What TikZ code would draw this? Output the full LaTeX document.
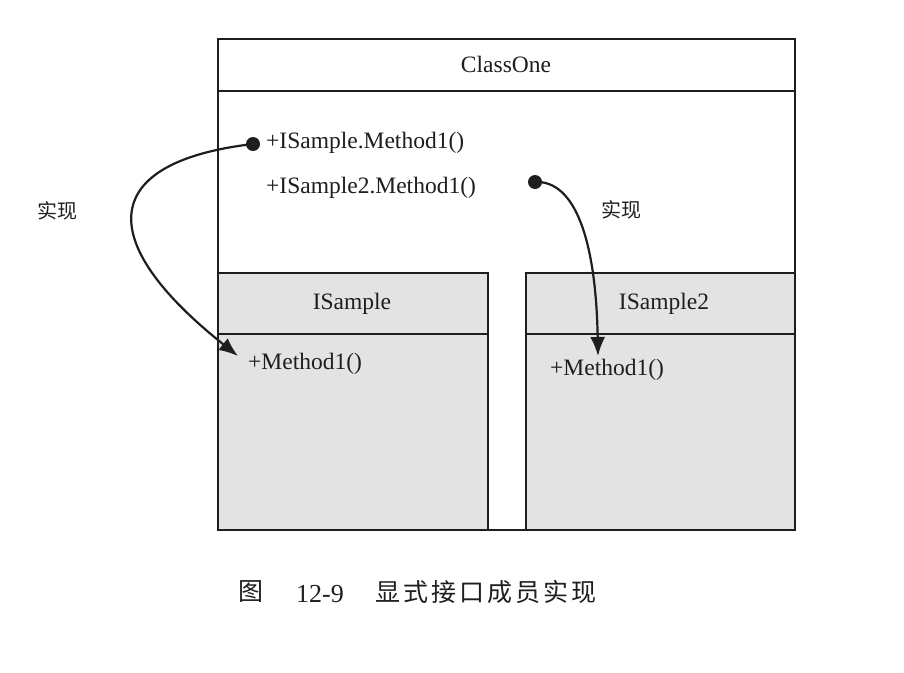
\documentclass[tikz,border=0pt]{standalone}
\usepackage{fontspec}
\setmainfont{Liberation Serif}
\newfontfamily\cjk{Noto Sans CJK SC}
\usetikzlibrary{arrows.meta}
\definecolor{ink}{HTML}{1E1E1E}
\definecolor{grayfill}{HTML}{E3E3E3}
\begin{document}
\begin{tikzpicture}[x=1pt,y=-1pt,
  box/.style={draw=ink,line width=2pt,inner sep=0pt,rectangle},
  sep/.style={draw=ink,line width=2pt},
  lbl/.style={font=\fontsize{23.5}{23.5}\selectfont,text=ink,inner sep=0pt},
  cjklbl/.style={font=\cjk\fontsize{20}{20}\selectfont,text=ink,inner sep=0pt},
  dot/.style={circle,fill=ink,inner sep=0pt,minimum size=14pt},
  conn/.style={draw=ink,line width=2.2pt,-{Latex[length=19pt,width=15pt]}}]
\useasboundingbox[fill=white] (0,0) rectangle (904,672);
% boxes
\node[box,fill=white,minimum width=577pt,minimum height=491pt] (c1) at (506.5,284.5) {};
\draw[sep] (c1.west |- 0,91) -- (c1.east |- 0,91);
\node[box,fill=grayfill,minimum width=270pt,minimum height=257pt] (s1) at (353,401.5) {};
\draw[sep] (s1.west |- 0,334) -- (s1.east |- 0,334);
\node[box,fill=grayfill,minimum width=269pt,minimum height=257pt] (s2) at (660.5,401.5) {};
\draw[sep] (s2.west |- 0,334) -- (s2.east |- 0,334);
% texts
\node[lbl,anchor=base] (t1) at (506,72) {ClassOne};
\node[lbl,anchor=base west] (m1) at (266,148.5) {+ISample.Method1()};
\node[lbl,anchor=base west] (m2) at (266,193) {+ISample2.Method1()};
\node[lbl,anchor=base] (t2) at (352,309) {ISample};
\node[lbl,anchor=base] (t3) at (664,309) {ISample2};
\node[lbl,anchor=base west] (m3) at (248,369) {+Method1()};
\node[lbl,anchor=base west] (m4) at (550,375) {+Method1()};
\node[cjklbl] (r1) at (57,211) {实现};
\node[cjklbl] (r2) at (621,210) {实现};
% connectors
\node[dot] (d1) at (253,144) {};
\node[dot] (d2) at (535,182) {};
\coordinate (e1) at (238,356);
\coordinate (e2) at (598,356);
\draw[conn] (d1.center) .. controls (100,162) and (92,240) .. (e1);
\draw[conn] (d2.center) .. controls (575,180) and (596,240) .. (e2);
% caption
\node[font=\cjk\fontsize{25}{25}\selectfont,text=ink,inner sep=0pt] (cap1) at (251,592) {图};
\node[font=\fontsize{26}{26}\selectfont,text=ink,inner sep=0pt,anchor=base west] (cap2) at (296,602) {12-9};
\node[font=\cjk\fontsize{25}{25}\selectfont,text=ink,inner sep=0pt,anchor=west] (cap3) at (375,592) {显\hspace{3pt}式\hspace{3pt}接\hspace{3pt}口\hspace{3pt}成\hspace{3pt}员\hspace{3pt}实\hspace{3pt}现};
\end{tikzpicture}
\end{document}
